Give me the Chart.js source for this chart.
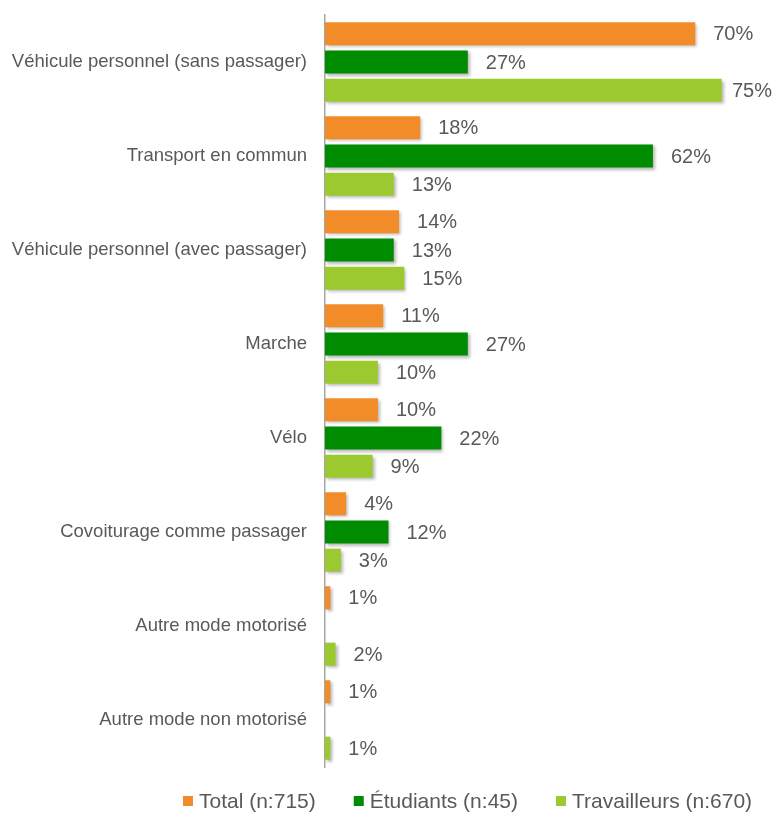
<!DOCTYPE html>
<html>
<head>
<meta charset="utf-8">
<script src="https://cdn.jsdelivr.net/npm/chart.js@4"></script>
<style>
    html, body { margin: 0; padding: 0; background: #ffffff; }
    #wrap { width: 777px; height: 814px; }
</style>
</head>
<body>
<div id="wrap"><canvas id="modesChart" width="777" height="814"></canvas></div>
<script>
// Modes de déplacement
const categories = [
    'Véhicule personnel (sans passager)',
    'Transport en commun',
    'Véhicule personnel (avec passager)',
    'Marche',
    'Vélo',
    'Covoiturage comme passager',
    'Autre mode motorisé',
    'Autre mode non motorisé'
];
const totalValues = [70, 18, 14, 11, 10, 4, 1, 1];
const etudiantsValues = [27, 62, 13, 27, 22, 12, null, null];
const travailleursValues = [75, 13, 15, 10, 9, 3, 2, 1];
const seriesLabels = ['Total (n:715)', 'Étudiants (n:45)', 'Travailleurs (n:670)'];
const seriesColors = ['#F28C28', '#008C00', '#9BC92F'];

const textColor = '#595959';
const fontFamily = '"Liberation Sans", Arial, sans-serif';

// soft drop shadow under the bars
const barShadow = {
    id: 'barShadow',
    beforeDatasetsDraw(chart) {
        const ctx = chart.ctx;
        ctx.save();
        ctx.shadowColor = 'rgba(0, 0, 0, 0.28)';
        ctx.shadowBlur = 3;
        ctx.shadowOffsetX = 2;
        ctx.shadowOffsetY = 2;
    },
    afterDatasetsDraw(chart) {
        chart.ctx.restore();
    }
};

// percentage labels at the end of each bar
const valueLabels = {
    id: 'valueLabels',
    afterDatasetsDraw(chart) {
        const ctx = chart.ctx;
        ctx.save();
        ctx.font = '20px ' + fontFamily;
        ctx.fillStyle = textColor;
        ctx.textAlign = 'left';
        ctx.textBaseline = 'middle';
        chart.data.datasets.forEach((ds, i) => {
            const meta = chart.getDatasetMeta(i);
            meta.data.forEach((bar, j) => {
                const v = ds.data[j];
                if (v === null || v === undefined) return;
                const txt = v + '%';
                let x = bar.x + 18;
                const w = ctx.measureText(txt).width;
                // keep the label inside the canvas
                if (x + w > chart.width - 5) x = chart.width - 5 - w;
                ctx.fillText(txt, x, bar.y + 1);
            });
        });
        ctx.restore();
    }
};

// legend row under the plot
const bottomLegend = {
    id: 'bottomLegend',
    afterDraw(chart) {
        const ctx = chart.ctx;
        ctx.save();
        ctx.font = '21px ' + fontFamily;
        ctx.textBaseline = 'middle';
        ctx.textAlign = 'left';
        const y = 801;
        let x = 183;
        chart.data.datasets.forEach((ds) => {
            ctx.fillStyle = ds.backgroundColor;
            ctx.fillRect(x, y - 5, 10, 10);
            x += 10 + 6;
            ctx.fillStyle = textColor;
            ctx.fillText(ds.label, x, y + 1);
            x += ctx.measureText(ds.label).width + 38;
        });
        ctx.restore();
    }
};

const ctx = document.getElementById('modesChart').getContext('2d');
new Chart(ctx, {
    type: 'bar',
    data: {
        labels: categories,
        datasets: [
            { label: seriesLabels[0], data: totalValues, backgroundColor: seriesColors[0] },
            { label: seriesLabels[1], data: etudiantsValues, backgroundColor: seriesColors[1] },
            { label: seriesLabels[2], data: travailleursValues, backgroundColor: seriesColors[2] }
        ]
    },
    options: {
        indexAxis: 'y',
        responsive: false,
        animation: false,
        devicePixelRatio: 1,
        layout: {
            padding: { top: 15, right: 13, left: 0, bottom: 47 }
        },
        datasets: {
            bar: {
                barPercentage: 0.82,
                categoryPercentage: 0.9,
                borderWidth: 0
            }
        },
        scales: {
            x: {
                display: false,
                min: 0,
                max: 83
            },
            y: {
                afterFit(scale) {
                    scale.width = 325;
                    // labels sit at band centres, no extra room needed above/below
                    scale.paddingTop = 0;
                    scale.paddingBottom = 0;
                },
                grid: { display: false, drawTicks: false },
                border: { display: true, color: '#A6A6A6', width: 1.5 },
                ticks: {
                    color: textColor,
                    padding: 18,
                    font: { family: fontFamily, size: 18.5 }
                }
            }
        },
        plugins: {
            tooltip: { enabled: false },
            legend: { display: false }
        }
    },
    plugins: [barShadow, valueLabels, bottomLegend]
});
</script>
</body>
</html>
